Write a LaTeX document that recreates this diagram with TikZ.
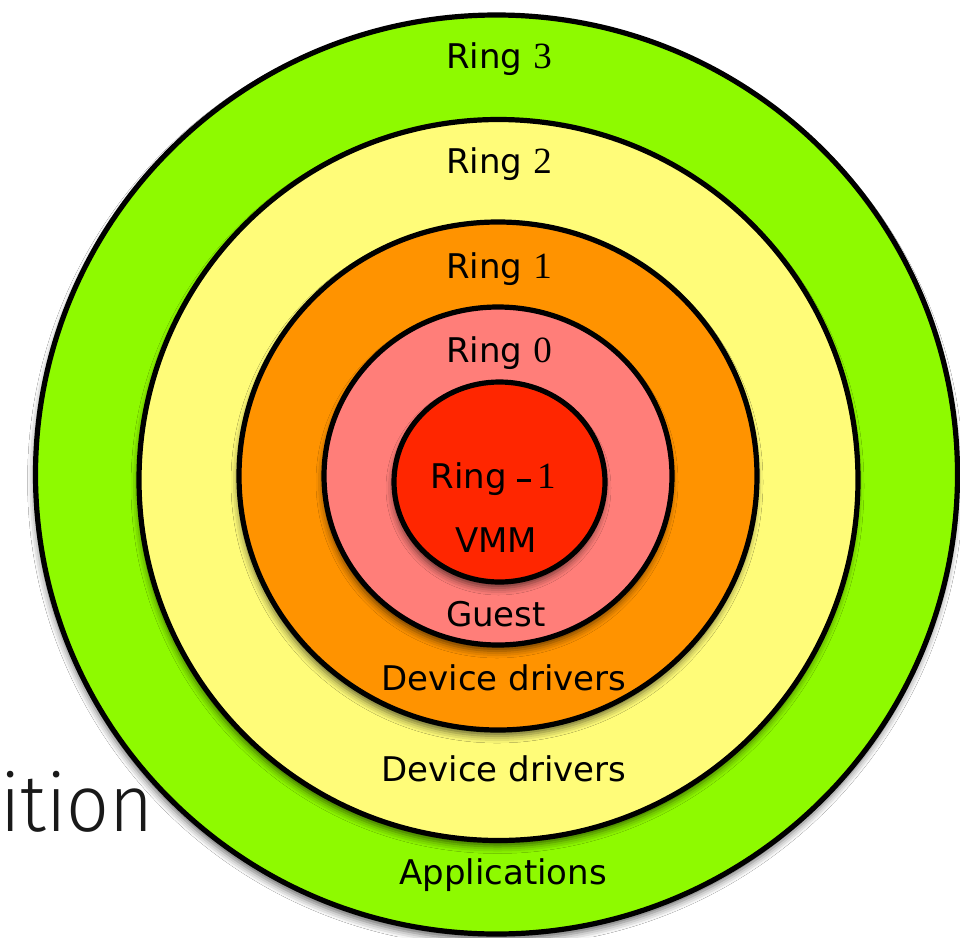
\documentclass[tikz,border=0pt]{standalone}
\usepackage{fontspec}
\setmainfont{DejaVu Sans}
\newfontfamily\digitfont{Liberation Serif}
\newfontfamily\thinfont{Fira Sans Light}
\usetikzlibrary{shapes.geometric,shadows.blur}

\definecolor{limefill}{HTML}{8EFA00}
\definecolor{bananafill}{HTML}{FFFC79}
\definecolor{tangerinefill}{HTML}{FF9300}
\definecolor{salmonfill}{HTML}{FF7E79}
\definecolor{maraschinofill}{HTML}{FF2600}

% serif numerals inside the ring labels
\newcommand{\ringnum}[1]{{\digitfont\fontsize{37}{37}\selectfont #1}}

\tikzset{
  ringdisc/.style={ellipse, draw=black, line width=5.2pt, inner sep=0pt,
    blur shadow={shadow xshift=-1pt, shadow yshift=-6pt,
                 shadow blur radius=7pt, shadow opacity=60}},
  ringlabel/.style={anchor=base, inner sep=0pt,
    font=\fontsize{34}{34}\selectfont, text=black},
}

\begin{document}
\begin{tikzpicture}[x=1pt, y=-1pt]
  \useasboundingbox (0,0) rectangle (960,937);
  \fill[white] (0,0) rectangle (960,937);

  % partial slide title behind the rings
  \node[anchor=base west, inner sep=0pt, text=black!90, xscale=0.94,
        font=\thinfont\fontsize{80}{80}\selectfont] (title) at (0,831) {ition};

  % protection rings, outermost first
  \node[ringdisc, fill=limefill, minimum width=922pt, minimum height=919pt] (r3) at (496.5,474.5) {};
  \node[ringdisc, fill=bananafill, minimum width=719pt, minimum height=721pt] (r2) at (498.5,480) {};
  \node[ringdisc, fill=tangerinefill, minimum width=518pt, minimum height=508pt] (r1) at (498,476) {};
  \node[ringdisc, fill=salmonfill, minimum width=348pt, minimum height=338pt] (r0) at (498,476) {};
  \node[ringdisc, fill=maraschinofill, minimum width=211pt, minimum height=200pt] (rm1) at (499.5,482) {};

  % labels
  \node[ringlabel] (l3) at (499,68) {Ring \ringnum{3}};
  \node[ringlabel] (l2) at (499,173) {Ring \ringnum{2}};
  \node[ringlabel] (l1) at (499,278) {Ring \ringnum{1}};
  \node[ringlabel] (l0) at (499,362) {Ring \ringnum{0}};
  \node[ringlabel] (lm1) at (493,488) {Ring \rule[0.3ex]{14pt}{3pt}\,\ringnum{1}};
  \node[ringlabel] (vmm) at (496,552) {VMM};
  \node[ringlabel] (guest) at (496,626) {Guest};
  \node[ringlabel] (dd1) at (504,690) {Device drivers};
  \node[ringlabel] (dd2) at (504,781) {Device drivers};
  \node[ringlabel] (apps) at (503,884) {Applications};
\end{tikzpicture}
\end{document}
